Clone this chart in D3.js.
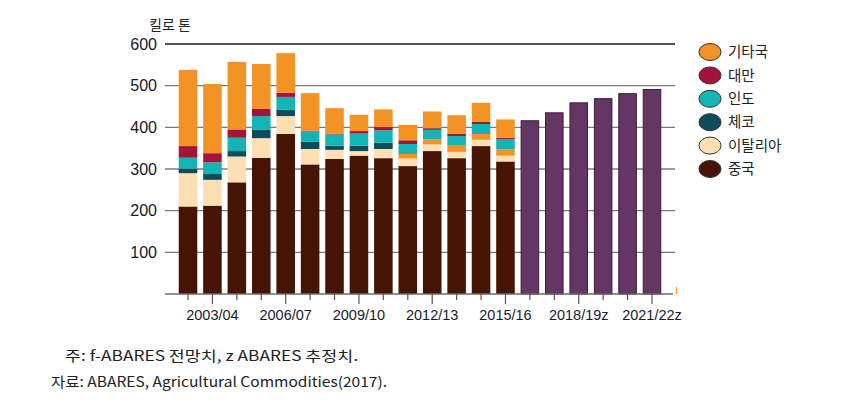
<!DOCTYPE html>
<html><head><meta charset="utf-8">
<script src="https://cdn.jsdelivr.net/npm/d3@7"></script>
<style>body{margin:0;background:#fff}svg{display:block}</style>
</head><body>
<svg id="c" width="841" height="409"></svg>
<script>
const years = ["2002/03","2003/04","2004/05","2005/06","2006/07","2007/08","2008/09","2009/10","2010/11","2011/12","2012/13","2013/14","2014/15","2015/16","2016/17","2017/18","2018/19z","2019/20","2020/21","2021/22z"];
const tickLabels = ["2003/04","2006/07","2009/10","2012/13","2015/16","2018/19z","2021/22z"];
const yTicks = [100,200,300,400,500,600];
const china  = [210,212,268,327,384,311,324,332,326,307,343,326,355,318];
const italy  = [80,62,62,47,43,37,22,11,22,18,16,15,15,14];
const czech  = [11,14,13,20,15,17,10,13,15,0,0,0,0,0];
const othersLower = [0,0,0,0,0,0,0,0,0,11,12,15,14,15];
const india  = [26,28,32,33,31,26,27,29,30,24,23,23,24,24];
const taiwan = [28,22,20,18,10,1,2,6,8,9,4,6,5,4];
const others = [183,166,162,107,95,90,61,39,42,37,40,44,46,44];
const forecast = [417,436,460,470,482,492];
const legendNames = ["기타국","대만","인도","체코","이탈리아","중국"];

const colors = {china:"#451404",italy:"#FDDFB4",czech:"#0E4B5B",othersLower:"#F39225",india:"#14B3B4",taiwan:"#A5133C",others:"#F39225"};
const legendColors = ["#F39225","#A5133C","#14B3B4","#0E4B5B","#FDDFB4","#451404"];
const purple = "#633663";

const svg = d3.select("#c");
svg.append("rect").attr("width",841).attr("height",409).attr("fill","#fff");

const x = d3.scaleBand().domain(years).range([175.8,664.2]).paddingInner(0.24).paddingOuter(0.12);
const y = d3.scaleLinear().domain([0,600]).range([294,44]);

// gridlines
svg.append("g").selectAll("line").data(yTicks).join("line")
  .attr("x1",165).attr("x2",675).attr("y1",d=>y(d)).attr("y2",d=>y(d))
  .attr("stroke",d=>d===600?"#1a1a1a":"#7a7a7a").attr("stroke-width",1.4);

// y labels
svg.append("g").selectAll("text").data(yTicks).join("text")
  .attr("x",157).attr("y",d=>y(d)).attr("dy","0.36em").attr("text-anchor","end")
  .attr("font-family","'Liberation Sans',Arial,sans-serif").attr("font-size",16).attr("fill","#16162a")
  .text(d=>d);
svg.append("text").attr("x",149).attr("y",30).attr("font-family","'Noto Sans CJK KR',sans-serif")
  .attr("font-size",14).attr("fill","#222").text("킬로 톤");

// stacked bars
const keys = ["china","italy","czech","othersLower","india","taiwan","others"];
const series = {china,italy,czech,othersLower,india,taiwan,others};
const rows = china.map((_,i)=>{const r={year:years[i]};keys.forEach(k=>r[k]=series[k][i]);return r;});
const stack = d3.stack().keys(keys)(rows);
svg.append("g").selectAll("g").data(stack).join("g")
  .attr("fill",d=>colors[d.key])
  .selectAll("rect").data(d=>d.filter(s=>s[1]-s[0]>0)).join("rect")
  .attr("x",d=>x(d.data.year)).attr("width",x.bandwidth())
  .attr("y",d=>y(d[1])).attr("height",d=>y(d[0])-y(d[1]));

// forecast bars
const fyears = years.slice(china.length);
svg.append("g").selectAll("rect").data(forecast).join("rect")
  .attr("x",(d,i)=>x(fyears[i])+0.5).attr("width",x.bandwidth()-1)
  .attr("y",d=>y(d)+0.5).attr("height",d=>y(0)-y(d)-0.5)
  .attr("fill",purple).attr("stroke","#3e1a3d").attr("stroke-width",1);

// x axis
svg.append("line").attr("x1",165).attr("x2",673).attr("y1",294).attr("y2",294).attr("stroke","#6a6a6a").attr("stroke-width",1.5);
svg.append("g").selectAll("line").data(years).join("line")
  .attr("x1",d=>x(d)+x.bandwidth()/2).attr("x2",d=>x(d)+x.bandwidth()/2)
  .attr("y1",294).attr("y2",d=>tickLabels.includes(d)?304:300)
  .attr("stroke","#555").attr("stroke-width",1.2);
svg.append("line").attr("x1",676.5).attr("x2",676.5).attr("y1",287).attr("y2",294).attr("stroke","#F39225").attr("stroke-width",1);
svg.append("g").selectAll("text").data(tickLabels).join("text")
  .attr("x",d=>x(d)+x.bandwidth()/2).attr("y",320).attr("text-anchor","middle")
  .attr("font-family","'Liberation Sans Narrow','Arial Narrow',sans-serif").attr("font-size",14.5).attr("fill","#1a1a30")
  .text(d=>d);

// legend
const lg = svg.append("g").selectAll("g").data(legendNames).join("g")
  .attr("transform",(d,i)=>`translate(710,${52+i*23.4})`);
lg.append("ellipse").attr("rx",11).attr("ry",8.5).attr("fill",(d,i)=>legendColors[i]).attr("stroke","#333").attr("stroke-width",1);
lg.append("text").attr("x",18).attr("dy","0.36em").attr("font-family","'Noto Sans CJK KR',sans-serif")
  .attr("font-size",14.5).attr("fill","#222").text(d=>d);

// notes
svg.append("text").attr("x",65).attr("y",361).attr("font-family","'Noto Sans CJK KR',sans-serif")
  .attr("font-size",14).attr("fill","#222").attr("textLength",293).attr("lengthAdjust","spacingAndGlyphs")
  .text("주: f-ABARES 전망치, z ABARES 추정치.");
svg.append("text").attr("x",51).attr("y",387).attr("font-family","'Noto Sans CJK KR',sans-serif")
  .attr("font-size",14).attr("fill","#222").attr("textLength",336).attr("lengthAdjust","spacingAndGlyphs")
  .text("자료: ABARES, Agricultural Commodities(2017).");
</script>
</body></html>
